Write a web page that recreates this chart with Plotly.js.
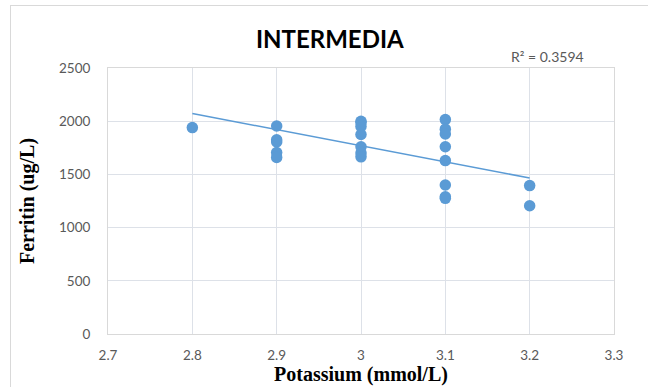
<!DOCTYPE html>
<html>
<head>
<meta charset="utf-8">
<script src="https://cdn.plot.ly/plotly-3.0.1.min.js"></script>
<style>
html,body{margin:0;padding:0;background:#fff;}
#frame{position:absolute;left:10px;top:5px;width:700px;height:400px;border-left:1px solid #d9d9d9;border-top:1px solid #d9d9d9;}
#chart{position:absolute;left:0;top:0;width:648px;height:387px;}
</style>
</head>
<body>
<div id="frame"></div>
<div id="chart"></div>
<script>
// Potassium (mmol/L) values
var potassium = [2.8,
  2.9, 2.9, 2.9, 2.9, 2.9,
  3.0, 3.0, 3.0, 3.0, 3.0, 3.0, 3.0,
  3.1, 3.1, 3.1, 3.1, 3.1, 3.1, 3.1, 3.1,
  3.2, 3.2];
// Ferritin (ug/L) values
var ferritin = [1940,
  1955, 1825, 1805, 1705, 1660,
  2000, 1985, 1950, 1875, 1760, 1700, 1665,
  2015, 1925, 1880, 1760, 1630, 1400, 1290, 1275,
  1395, 1205];
// Linear trendline endpoints
var trendX = [2.8, 3.2];
var trendY = [2072, 1466];
var xTicks = [2.7, 2.8, 2.9, 3.0, 3.1, 3.2, 3.3];
var xTickText = ["2.7", "2.8", "2.9", "3", "3.1", "3.2", "3.3"];
var yTicks = [0, 500, 1000, 1500, 2000, 2500];
var r2Text = "R² = 0.3594";
var chartTitle = "INTERMEDIA";

var blue = "#5b9bd5";
var tickFont = {family: "Lato, 'Open Sans', sans-serif", size: 13.5, color: "#595959"};
var axTitleFont = {family: "'Liberation Serif', 'Times New Roman', serif", size: 20, color: "#000", weight: "bold"};

var traces = [
  {x: potassium, y: ferritin, type: "scatter", mode: "markers",
   marker: {color: blue, size: 11.5}, hoverinfo: "x+y", showlegend: false},
  {x: trendX, y: trendY, type: "scatter", mode: "lines",
   line: {color: blue, width: 1.5}, showlegend: false, hoverinfo: "skip"}
];

var layout = {
  width: 648, height: 387,
  margin: {l: 108, r: 34, t: 68, b: 53, pad: 0},
  paper_bgcolor: "rgba(0,0,0,0)",
  plot_bgcolor: "#fff",
  title: {text: chartTitle, x: 0.509, xref: "container", xanchor: "center", y: 0.897, yref: "container", yanchor: "middle",
          font: {family: "Lato, 'Open Sans', sans-serif", size: 24, color: "#000", weight: "bold"}},
  xaxis: {range: [2.7, 3.3], tickvals: xTicks, ticktext: xTickText, showgrid: true, gridcolor: "#dde1e8", gridwidth: 1,
          zeroline: false, showline: true, linecolor: "#d9d9d9", mirror: true, ticks: "", tickfont: tickFont,
          ticklabelstandoff: 9,
          title: {text: "Potassium (mmol/L)", font: axTitleFont, standoff: 4}},
  yaxis: {range: [0, 2500], tickvals: yTicks, showgrid: true, gridcolor: "#dde1e8", gridwidth: 1,
          zeroline: false, showline: true, linecolor: "#d9d9d9", mirror: true, ticks: "", tickfont: tickFont,
          ticklabelstandoff: 14,
          title: {text: "Ferritin (ug/L)", font: axTitleFont, standoff: 18}},
  annotations: [
    {text: r2Text, xref: "paper", yref: "paper", x: 0.868, y: 1.045, xanchor: "center", yanchor: "middle",
     showarrow: false, font: {family: "Lato, 'Open Sans', sans-serif", size: 14, color: "#595959"}}
  ]
};

Plotly.newPlot("chart", traces, layout, {displayModeBar: false, staticPlot: true});
</script>
</body>
</html>
